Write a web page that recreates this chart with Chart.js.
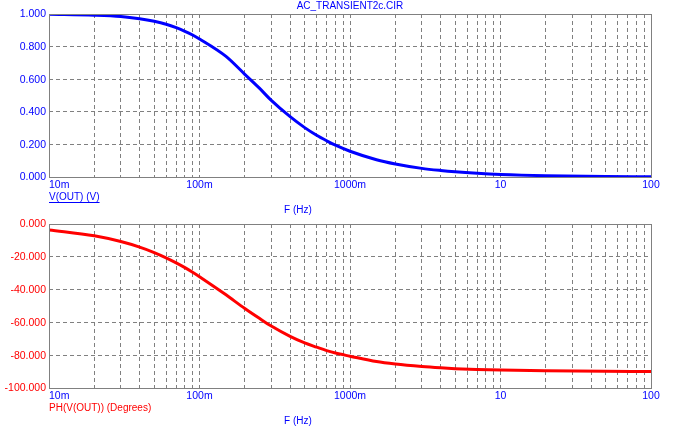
<!DOCTYPE html>
<html>
<head>
<meta charset="utf-8">
<script src="https://cdn.jsdelivr.net/npm/chart.js@4/dist/chart.umd.min.js"></script>
<style>
  html, body { margin: 0; padding: 0; background: #ffffff; }
  #wrap { position: relative; width: 678px; height: 431px; background: #ffffff; }
  canvas { position: absolute; left: 0; }
  #c1 { top: 0; }
  #c2 { top: 215px; }
</style>
</head>
<body>
<div id="wrap">
  <canvas id="c1" width="678" height="215"></canvas>
  <canvas id="c2" width="678" height="216"></canvas>
</div>
<script>
// ---- data ----
const title = "AC_TRANSIENT2c.CIR";
const freqHz = [0.01, 0.02, 0.03, 0.04, 0.05, 0.06, 0.07, 0.08, 0.09, 0.1,
                0.15, 0.2, 0.25, 0.3, 0.4, 0.5, 0.6, 0.7, 0.8, 1,
                1.5, 2, 3, 4, 5, 7, 10, 20, 50, 100];
const magV = [0.998, 0.993, 0.985, 0.971, 0.955, 0.937, 0.916, 0.894, 0.871, 0.847,
              0.74, 0.63, 0.545, 0.47, 0.37, 0.303, 0.256, 0.222, 0.195, 0.158,
              0.106, 0.08, 0.053, 0.04, 0.032, 0.023, 0.016, 0.008, 0.003, 0.002];
const phaseDeg = [-3.6, -7.2, -10.7, -14.1, -17.4, -20.6, -23.7, -26.6, -29.4, -32.1,
                  -43.2, -51.5, -57.5, -62.2, -68.5, -72.5, -75.1, -77.2, -78.7, -80.6,
                  -83.9, -85.4, -86.9, -87.7, -88.2, -88.7, -89.1, -89.5, -89.8, -89.9];
const xGridValues = [0.01,0.02,0.03,0.04,0.05,0.06,0.07,0.08,0.09,
                     0.1,0.2,0.3,0.4,0.5,0.6,0.7,0.8,0.9,
                     1,2,3,4,5,6,7,8,9,
                     10,20,30,40,50,60,70,80,90,100];
const xTickValues = [0.01, 0.1, 1, 10, 100];
const xTickLabels = ["10m", "100m", "1000m", "10", "100"];
const magTicks = [0, 0.2, 0.4, 0.6, 0.8, 1.0];
const phaseTicks = [-100, -80, -60, -40, -20, 0];
const xAxisName = "F (Hz)";
const magName = "V(OUT) (V)";
const phaseName = "PH(V(OUT)) (Degrees)";

const GRID = "#808080";
const BLUE = "#0000ff";
const RED = "#ff0000";
const FONT = "'Liberation Sans', Arial, sans-serif";

function makeDecorPlugin(opts) {
  return {
    id: 'decor_' + opts.key,
    afterDraw(chart) {
      const ctx = chart.ctx;
      const a = chart.chartArea;
      const xs = chart.scales.x, ys = chart.scales.y;
      ctx.save();
      // frame
      ctx.strokeStyle = GRID;
      ctx.lineWidth = 1;
      ctx.setLineDash([]);
      ctx.strokeRect(Math.round(a.left) + 0.5, Math.round(a.top) + 0.5,
                     Math.round(a.right - a.left), Math.round(a.bottom - a.top));
      // y tick labels
      ctx.fillStyle = opts.yColor;
      ctx.font = "10.5px " + FONT;
      ctx.textAlign = "right";
      ctx.textBaseline = "middle";
      opts.yTicks.forEach(v => {
        ctx.fillText(v.toFixed(3), a.left - 3, ys.getPixelForValue(v) + 0.5);
      });
      // x tick labels
      ctx.fillStyle = BLUE;
      xTickValues.forEach((v, i) => {
        const px = xs.getPixelForValue(v);
        ctx.textAlign = i === 0 ? "left" : "center";
        ctx.fillText(xTickLabels[i], i === 0 ? px : px, a.bottom + 8);
      });
      // series name
      ctx.font = "10px " + FONT;
      ctx.textAlign = "left";
      ctx.fillStyle = opts.yColor;
      ctx.fillText(opts.name, a.left, a.bottom + 20.5);
      if (opts.underline) {
        const w = ctx.measureText(opts.name).width;
        ctx.fillRect(a.left, a.bottom + 25, w, 1);
      }
      // x axis name
      ctx.fillStyle = BLUE;
      ctx.textAlign = "center";
      ctx.fillText(xAxisName, 298, a.bottom + 33.5);
      // title
      if (opts.title) {
        ctx.fillText(opts.title, (a.left + a.right) / 2, 6.5);
      }
      ctx.restore();
    }
  };
}

function makeChart(canvasId, values, color, yMin, yMax, yTicks, padding, decor) {
  const points = freqHz.map((f, i) => ({ x: f, y: values[i] }));
  return new Chart(document.getElementById(canvasId), {
    type: 'line',
    data: {
      datasets: [{
        data: points,
        borderColor: color,
        borderWidth: 3,
        pointRadius: 0,
        cubicInterpolationMode: 'monotone',
        fill: false
      }]
    },
    options: {
      responsive: false,
      animation: false,
      devicePixelRatio: 1,
      layout: { padding: padding },
      plugins: { legend: { display: false }, tooltip: { enabled: false }, title: { display: false } },
      scales: {
        x: {
          type: 'logarithmic',
          min: 0.01, max: 100,
          afterBuildTicks: s => { s.ticks = xGridValues.map(v => ({ value: v })); },
          ticks: { display: false },
          grid: { color: GRID, lineWidth: 1, drawTicks: false },
          border: { display: false, dash: [4, 3] }
        },
        y: {
          type: 'linear',
          min: yMin, max: yMax,
          afterBuildTicks: s => { s.ticks = yTicks.map(v => ({ value: v })); },
          ticks: { display: false },
          grid: { color: GRID, lineWidth: 1, drawTicks: false },
          border: { display: false, dash: [4, 3] }
        }
      }
    },
    plugins: [decor]
  });
}

makeChart('c1', magV, BLUE, 0, 1, magTicks,
  { left: 49, right: 27, top: 14, bottom: 38 },
  makeDecorPlugin({ key: 'top', yColor: BLUE, yTicks: magTicks, name: magName, underline: true, title: title }));

makeChart('c2', phaseDeg, RED, -100, 0, phaseTicks,
  { left: 49, right: 27, top: 9, bottom: 43 },
  makeDecorPlugin({ key: 'bot', yColor: RED, yTicks: phaseTicks, name: phaseName, underline: false, title: null }));
</script>
</body>
</html>
